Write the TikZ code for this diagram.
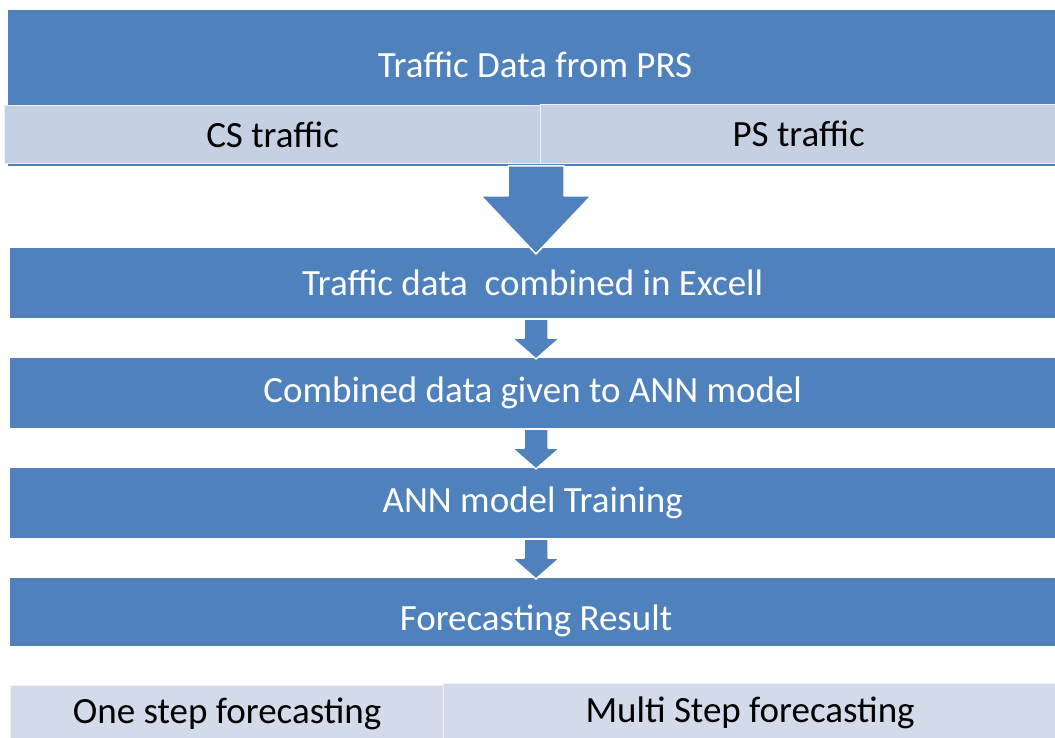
\documentclass[tikz,border=0pt]{standalone}
\usepackage{fontspec}
\setmainfont{Carlito}
\definecolor{ablue}{HTML}{4F81BD}
\definecolor{lightA}{HTML}{C5D0E3}
\definecolor{lightB}{HTML}{D3DAEA}
\begin{document}
\begin{tikzpicture}[x=1pt,y=-1pt,
  txt/.style={font=\fontsize{37}{42}\selectfont},
  bluebox/.style={fill=ablue,draw=none,anchor=north west,inner sep=0pt,text=white,txt},
  lightbox/.style={fill=#1,draw=white!70!lightA,line width=1.2pt,anchor=north west,inner sep=0pt,text=black,txt},
  flowarrow/.style={fill=ablue,draw=white,line width=1.5pt,line join=round}]
\useasboundingbox (0,0) rectangle (1055,738);
% top block
\node[bluebox,minimum width=1047pt,minimum height=156pt] (top) at (8,10) {};
\node[text=white,txt] (toplabel) at (535,65) {Traffic Data from PRS};
\node[lightbox=lightA,minimum width=536pt,minimum height=58pt] (cs) at (4,105) {CS traffic};
\node[lightbox=lightA,minimum width=516pt,minimum height=59pt] (ps) at (540,104) {PS traffic};
% steps
\node[bluebox,minimum width=1045pt,minimum height=70pt] (excel) at (10,248) {Traffic data\ \ combined in Excell};
\node[bluebox,minimum width=1045pt,minimum height=70pt] (ann) at (10,358) {Combined data given to ANN model};
\node[bluebox,minimum width=1045pt,minimum height=70pt] (train) at (10,468) {ANN model Training};
\node[bluebox,minimum width=1045pt,minimum height=68pt] (res) at (10,578) {};
\node[text=white,txt] (reslabel) at (536,621) {Forecasting Result};
% bottom
\node[lightbox=lightB,minimum width=433pt,minimum height=56pt] (one) at (10,685) {One step forecasting};
\node[lightbox=lightB,minimum width=613pt,minimum height=58pt] (multi) at (443,683) {Multi Step forecasting};
% arrows
\draw[flowarrow] (508,166) -- (508,196) -- (481,196) -- (536,254) -- (591,196) -- (564,196) -- (564,166) -- cycle;
\foreach \ya/\yb in {319/359,429/469,539/579}{
  \draw[flowarrow] (524,\ya) -- (524,\ya+19) -- (512,\ya+19) -- (536,\yb) -- (560,\ya+19) -- (548,\ya+19) -- (548,\ya) -- cycle;
}
\end{tikzpicture}
\end{document}
